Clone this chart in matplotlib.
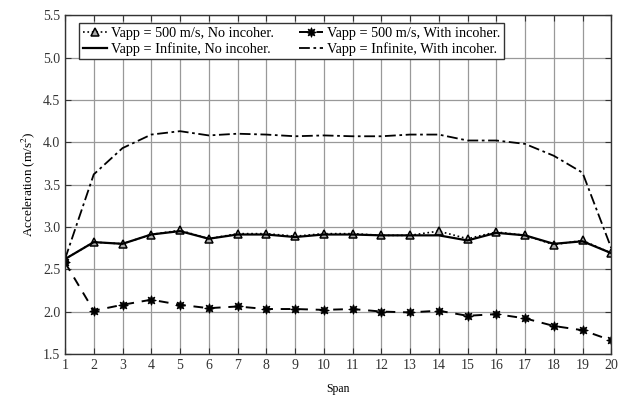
import numpy as np
import matplotlib.pyplot as plt

plt.rcParams['font.family'] = ['Liberation Serif', 'DejaVu Serif']
plt.rcParams['mathtext.fontset'] = 'stix'

span = np.arange(1, 21)

# acceleration per span (m/s^2)
v500_no_incoh = [2.62, 2.82, 2.80, 2.91, 2.96, 2.86, 2.92, 2.92, 2.89, 2.92,
                 2.92, 2.90, 2.90, 2.95, 2.86, 2.94, 2.90, 2.79, 2.84, 2.69]
v500_with_incoh = [2.58, 2.01, 2.08, 2.14, 2.08, 2.04, 2.06, 2.03, 2.03, 2.02,
                   2.03, 2.00, 1.99, 2.01, 1.95, 1.97, 1.92, 1.83, 1.78, 1.66]
vinf_no_incoh = [2.62, 2.82, 2.80, 2.91, 2.95, 2.86, 2.91, 2.91, 2.88, 2.91,
                 2.91, 2.90, 2.90, 2.90, 2.84, 2.93, 2.90, 2.80, 2.83, 2.69]
vinf_with_incoh = [2.62, 3.62, 3.93, 4.09, 4.13, 4.08, 4.10, 4.09, 4.07, 4.08,
                   4.07, 4.07, 4.09, 4.09, 4.02, 4.02, 3.98, 3.84, 3.64, 2.75]

fig, ax = plt.subplots(figsize=(6.25, 3.99), dpi=100)
fig.subplots_adjust(left=0.104, right=0.978, top=0.962, bottom=0.113)

l1, = ax.plot(span, v500_no_incoh, linestyle=':', color='black', lw=1.2,
              marker='^', markersize=6, markerfacecolor='#aaaaaa', markeredgecolor='black',
              markeredgewidth=1.1, label='Vapp = 500 m/s, No incoher.')
l2, = ax.plot(span, v500_with_incoh, linestyle=(0, (5, 4)), color='black', lw=1.4,
              marker=(8, 1, 0), markersize=7, markeredgewidth=0.6,
              label='Vapp = 500 m/s, With incoher.')
l3, = ax.plot(span, vinf_no_incoh, linestyle='-', color='black', lw=1.6,
              label='Vapp = Infinite, No incoher.')
l4, = ax.plot(span, vinf_with_incoh, linestyle=(0, (6, 2, 1.5, 2)), color='black', lw=1.3,
              label='Vapp = Infinite, With incoher.')

ax.set_xlim(1, 20)
ax.set_ylim(1.5, 5.5)
ax.set_xticks(span)
ax.set_yticks(np.arange(1.5, 5.51, 0.5))
ax.set_yticklabels([f'{v:.1f}' for v in np.arange(1.5, 5.51, 0.5)])
ax.grid(True, color='#999999', lw=0.9)
ax.set_axisbelow(True)
ax.tick_params(direction='in', top=True, right=True, length=4, labelsize=10,
               colors='#333333')
for s in ax.spines.values():
    s.set_linewidth(1.0)
    s.set_color('#333333')

ax.set_xlabel('Span', fontsize=8.5, labelpad=8)
ax.set_ylabel('Acceleration (m/s$^2$)', fontsize=9.5)

# column-first fill: row 1 holds the 500 m/s cases, row 2 the infinite ones
leg = ax.legend([l1, l3, l2, l4], [l1.get_label(), l3.get_label(), l2.get_label(), l4.get_label()],
                loc='upper left', ncol=2, fontsize=10.3, frameon=True, fancybox=False,
                edgecolor='#333333', framealpha=1, handlelength=1.7,
                borderpad=0.25, labelspacing=0.15, columnspacing=1.7,
                handletextpad=0.3, bbox_to_anchor=(0.013, 0.997))
leg.get_frame().set_linewidth(1.0)

fig.savefig('out.png', dpi=100)
